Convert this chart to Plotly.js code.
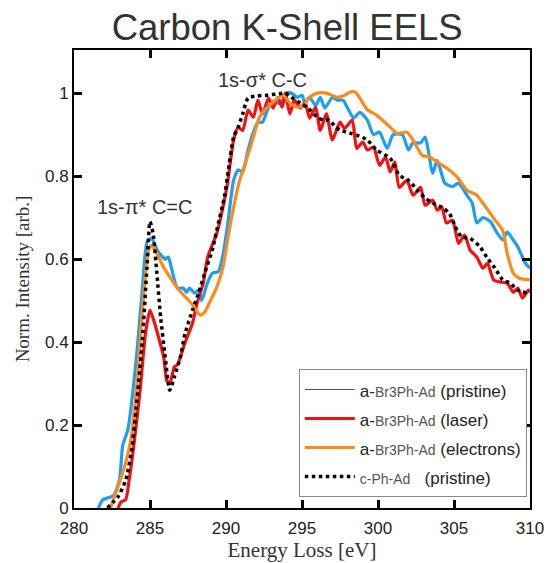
<!DOCTYPE html>
<html><head><meta charset="utf-8">
<script src="https://cdn.plot.ly/plotly-3.0.1.min.js"></script>
<style>body{margin:0;background:#fff}#c{width:548px;height:563px}</style>
</head><body><div id="c"></div>
<script>
// a-Br3Ph-Ad (pristine)
const pristineE = [281.6,281.9,282.6,283.0,283.2,283.55,284.1,284.5,284.8,285.1,285.5,286.0,286.2,286.4,286.8,287.2,287.4,287.6,287.95,288.2,288.4,288.75,289.1,289.5,289.8,290.1,290.5,290.8,291.1,291.4,291.7,292.1,292.4,292.8,293.1,293.55,294.0,294.3,294.7,295.0,295.2,295.5,295.9,296.2,296.5,297.0,297.3,297.7,298.0,298.4,298.8,299.3,299.7,300.1,300.6,301.0,301.6,302.0,302.3,302.8,303.1,303.3,303.6,303.9,304.4,304.9,305.3,305.85,306.2,306.5,306.9,307.4,307.8,308.2,308.5,308.9,309.2,309.7,310.0];
const pristineI = [0,0.02,0.03,0.07,0.15,0.19,0.36,0.53,0.64,0.65,0.62,0.60,0.605,0.58,0.53,0.53,0.52,0.53,0.518,0.525,0.50,0.54,0.566,0.57,0.61,0.68,0.79,0.815,0.81,0.855,0.895,0.93,0.93,0.966,0.98,0.975,1.0,1.0,0.99,0.995,0.975,0.99,0.97,0.99,0.964,0.99,0.983,0.983,0.964,0.94,0.954,0.935,0.90,0.906,0.867,0.90,0.90,0.863,0.88,0.88,0.894,0.863,0.807,0.838,0.783,0.775,0.783,0.754,0.735,0.687,0.70,0.69,0.665,0.646,0.665,0.646,0.629,0.59,0.578];
// a-Br3Ph-Ad (laser)
const laserE = [282.9,283.1,283.4,283.6,283.9,284.35,284.7,285.0,285.3,285.5,285.9,286.1,286.3,286.6,286.8,287.3,287.8,288.1,288.5,288.8,289.4,289.8,290.1,290.5,290.8,291.1,291.45,291.8,292.1,292.4,292.8,293.1,293.4,293.7,293.9,294.2,294.5,294.9,295.2,295.5,295.9,296.2,296.6,297.0,297.5,297.8,298.3,298.6,299.0,299.3,299.7,300.1,300.5,300.8,301.1,301.4,301.9,302.3,302.8,303.1,303.6,303.9,304.2,304.5,304.9,305.3,305.7,306.05,306.5,306.9,307.2,307.6,308.0,308.5,308.9,309.2,309.5,309.9,310.0];
const laserI = [0,0.015,0.02,0.06,0.14,0.284,0.42,0.477,0.446,0.42,0.364,0.308,0.30,0.34,0.345,0.398,0.446,0.494,0.542,0.605,0.663,0.725,0.783,0.887,0.918,0.91,0.959,0.942,0.983,0.95,0.988,0.964,0.99,0.966,1.0,0.95,0.983,0.964,0.978,0.94,0.966,0.91,0.95,0.887,0.93,0.915,0.935,0.867,0.882,0.863,0.87,0.826,0.846,0.81,0.834,0.773,0.79,0.754,0.773,0.73,0.742,0.718,0.725,0.687,0.694,0.638,0.658,0.622,0.605,0.578,0.59,0.55,0.545,0.542,0.52,0.53,0.506,0.525,0.52];
// a-Br3Ph-Ad (electrons)
const electronsE = [282.4,282.8,283.2,283.7,284.1,284.5,284.9,285.1,285.4,285.9,286.3,286.8,287.4,287.8,288.3,288.6,288.9,289.4,289.8,290.1,290.5,290.9,291.4,291.8,292.2,292.7,293.1,293.75,294.2,294.7,295.1,295.5,296.0,296.6,297.3,297.7,298.2,298.5,298.8,299.3,299.9,300.8,301.25,301.9,302.3,302.9,303.4,303.9,304.5,305.2,305.85,306.5,307.0,307.7,308.2,308.5,308.9,309.3,310.0];
const electronsI = [0,0.043,0.084,0.157,0.284,0.477,0.62,0.634,0.617,0.58,0.557,0.53,0.506,0.49,0.465,0.472,0.494,0.533,0.58,0.646,0.725,0.79,0.846,0.894,0.942,0.966,0.978,0.995,0.976,0.966,0.97,0.99,1.0,1.0,0.99,0.993,1.003,1.003,0.988,0.96,0.947,0.918,0.903,0.906,0.887,0.85,0.846,0.834,0.82,0.798,0.766,0.754,0.73,0.694,0.67,0.614,0.566,0.554,0.55];
// c-Ph-Ad (pristine)
const crystalE = [282.2,282.6,282.9,283.4,283.8,284.1,284.5,284.8,285.0,285.2,285.45,285.7,286.0,286.3,286.6,287.0,287.3,287.8,288.2,288.6,289.1,289.5,289.9,290.1,290.5,290.8,291.1,291.45,292.0,292.7,293.35,293.9,294.3,294.9,295.4,296.0,296.4,296.8,297.2,297.6,298.2,298.6,299.3,299.9,300.8,301.4,302.0,302.6,303.1,303.6,304.2,304.7,305.1,305.5,306.05,306.7,307.2,307.7,308.2,308.7,309.2,309.8];
const crystalI = [0,0.015,0.027,0.067,0.14,0.243,0.405,0.58,0.69,0.663,0.566,0.46,0.364,0.284,0.316,0.364,0.42,0.477,0.518,0.566,0.622,0.687,0.75,0.80,0.894,0.918,0.95,0.988,0.993,0.995,0.998,1.0,0.99,0.976,0.964,0.942,0.935,0.935,0.918,0.91,0.903,0.899,0.887,0.863,0.843,0.802,0.79,0.766,0.747,0.735,0.725,0.71,0.677,0.653,0.65,0.63,0.602,0.578,0.55,0.542,0.525,0.518];

const xTicks = [280,285,290,295,300,305,310];
const yTicks = [0,0.2,0.4,0.6,0.8,1];
const yTickText = ['0','0.2','0.4','0.6','0.8','1'];

const big = (t) => '<span style="font-size:17px;color:#222">' + t + '</span>';
const sm = (t) => '<span style="font-size:14px;color:#555">' + t + '</span>';
const traces = [
  {x:pristineE, y:pristineI, mode:'lines', line:{color:'#1E9EF0', width:3.2, shape:'spline', smoothing:0.6}, showlegend:false, hoverinfo:'skip'},
  {x:[null], y:[null], mode:'lines', line:{color:'#555', width:1.2}, name:big('a-') + sm('Br3Ph-Ad') + big(' (pristine)')},
  {x:laserE, y:laserI, mode:'lines', line:{color:'#F41010', width:3.2, shape:'spline', smoothing:0.6}, name:big('a-') + sm('Br3Ph-Ad') + big(' (laser)')},
  {x:electronsE, y:electronsI, mode:'lines', line:{color:'#FF8A1C', width:3.2, shape:'spline', smoothing:0.6}, name:big('a-') + sm('Br3Ph-Ad') + big(' (electrons)')},
  {x:crystalE, y:crystalI, mode:'lines', line:{color:'#000', width:3.5, dash:'dot', shape:'spline', smoothing:0.6}, name:sm('c-Ph-Ad') + big('   (pristine)')}
];

const layout = {
  width:548, height:563,
  margin:{l:74, r:18, t:50, b:55},
  paper_bgcolor:'#fff', plot_bgcolor:'#fff',
  font:{family:'Liberation Sans, Arial, sans-serif', color:'#222'},
  title:{text:'Carbon K-Shell EELS', font:{size:36.5, color:'#333', family:'Liberation Sans, Arial, sans-serif'}, x:0.524, xanchor:'center', y:0.952, yanchor:'middle'},
  xaxis:{range:[280,310], tickvals:xTicks, ticktext:xTicks.map(String), ticks:'inside', ticklen:8, tickwidth:3, tickcolor:'#000',
    showline:true, linecolor:'#000', linewidth:2, mirror:'ticks', showgrid:false, zeroline:false,
    tickfont:{size:17, color:'#222'}, ticklabelstandoff:4,
    title:{text:'Energy Loss [eV]', font:{family:'Liberation Serif, DejaVu Serif, serif', size:21, color:'#333'}, standoff:2}},
  yaxis:{range:[0,1.104], tickvals:yTicks, ticktext:yTickText, ticks:'inside', ticklen:8, tickwidth:3, tickcolor:'#000',
    showline:true, linecolor:'#000', linewidth:2, mirror:'ticks', showgrid:false, zeroline:false,
    tickfont:{size:17, color:'#222'},
    title:{text:'Norm. Intensity [arb.]', font:{family:'Liberation Serif, DejaVu Serif, serif', size:19, color:'#333'}, standoff:10}},
  legend:{x:0.993, y:0.3035, xanchor:'right', yanchor:'top', bgcolor:'#fff', bordercolor:'#888', borderwidth:1,
    font:{size:20, color:'#222'}, itemwidth:50, tracegroupgap:0},
  annotations:[
    {x:284.7, y:0.725, xref:'x', yref:'y', text:'1s-π* C=C', showarrow:false, font:{size:20, color:'#333'}},
    {x:292.4, y:1.031, xref:'x', yref:'y', text:'1s-σ* C-C', showarrow:false, font:{size:20, color:'#333'}}
  ],
  showlegend:true
};
Plotly.newPlot('c', traces, layout, {displayModeBar:false, staticPlot:true});
</script></body></html>
